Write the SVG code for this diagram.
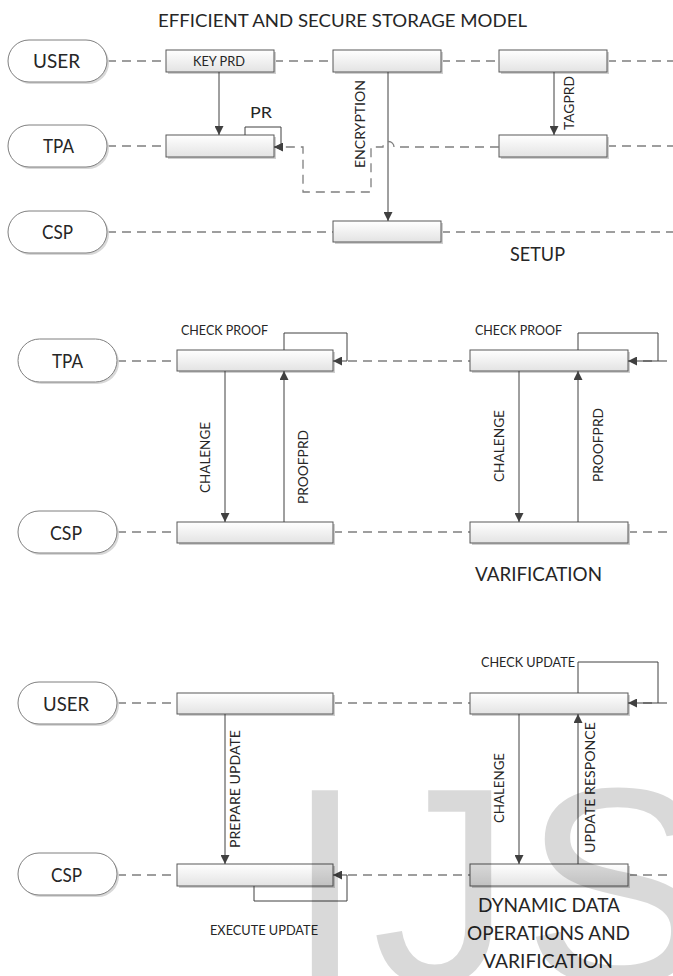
<svg xmlns="http://www.w3.org/2000/svg" width="673" height="976" viewBox="0 0 673 976">
<style>
.pill{fill:#fff;stroke:#7f7f7f;stroke-width:1}
.psh{fill:#d8d8d8}
.box{fill:url(#bg);stroke:#595959;stroke-width:1}
.bsh{fill:#cfcfcf}
.life{fill:none;stroke:#7f7f7f;stroke-width:1.3;stroke-dasharray:9 6}
.arr{fill:none;stroke:#404040;stroke-width:1;marker-end:url(#ah)}
.loop{fill:none;stroke:#404040;stroke-width:1}
.t{font-family:Lato,"Open Sans","Liberation Sans",sans-serif;fill:#262626}
.big{font-size:18.5px}
.sm{font-size:12.5px}
.wm{font-family:"Liberation Sans",Arial,sans-serif;font-size:280px;fill:#000;fill-opacity:0.15}
</style>
<defs>
<linearGradient id="bg" x1="0" y1="0" x2="0" y2="1">
<stop offset="0" stop-color="#ffffff"/>
<stop offset="1" stop-color="#e3e3e3"/>
</linearGradient>
<marker id="ah" viewBox="0 0 10 10" refX="10" refY="5" markerWidth="9" markerHeight="9" markerUnits="userSpaceOnUse" orient="auto">
<path d="M0,0 L10,5 L0,10 Z" fill="#404040"/>
</marker>
</defs>
<rect width="673" height="976" fill="#fff"/>

<text class="t" x="342.5" y="27" font-size="18" text-anchor="middle" textLength="369" lengthAdjust="spacingAndGlyphs">EFFICIENT AND SECURE STORAGE MODEL</text>

<g id="lifelines" class="connectors">
<path class="life" d="M107,61 H166 M274,61 H333 M441,61 H499 M607,61 H673"/>
<path class="life" d="M107,146 H166 M607,146 H673"/>
<path class="life" d="M107,232 H333 M441,232 H673"/>
<path class="life" d="M117,361 H177 M333,361 H470 M628,361 H673"/>
<path class="life" d="M117,532 H177 M333,532 H470 M628,532 H673"/>
<path class="life" d="M117,703 H177 M333,703 H470 M628,703 H673"/>
<path class="life" d="M117,875 H177 M333,875 H470 M628,875 H673"/>
</g>

<g id="pill-user1"><rect class="psh" x="10" y="42" width="99" height="42" rx="21"/><rect class="pill" x="8" y="40" width="99" height="42" rx="21"/><text class="t big" x="56.5" y="68" text-anchor="middle" textLength="47" lengthAdjust="spacingAndGlyphs">USER</text></g>
<g id="pill-tpa1"><rect class="psh" x="10" y="127" width="99" height="42" rx="21"/><rect class="pill" x="8" y="125" width="99" height="42" rx="21"/><text class="t big" x="58.5" y="153" text-anchor="middle" textLength="31" lengthAdjust="spacingAndGlyphs">TPA</text></g>
<g id="pill-csp1"><rect class="psh" x="10" y="213" width="99" height="42" rx="21"/><rect class="pill" x="8" y="211" width="99" height="42" rx="21"/><text class="t big" x="57.5" y="239" text-anchor="middle" textLength="31" lengthAdjust="spacingAndGlyphs">CSP</text></g>

<g id="pill-tpa2"><rect class="psh" x="20" y="341" width="99" height="43" rx="21.5"/><rect class="pill" x="18" y="339" width="99" height="43" rx="21.5"/><text class="t big" x="67.5" y="368" text-anchor="middle" textLength="31" lengthAdjust="spacingAndGlyphs">TPA</text></g>
<g id="pill-csp2"><rect class="psh" x="20" y="513" width="99" height="42" rx="21"/><rect class="pill" x="18" y="511" width="99" height="42" rx="21"/><text class="t big" x="66" y="540" text-anchor="middle" textLength="32" lengthAdjust="spacingAndGlyphs">CSP</text></g>

<g id="pill-user3"><rect class="psh" x="20" y="684" width="99" height="42" rx="21"/><rect class="pill" x="18" y="682" width="99" height="42" rx="21"/><text class="t big" x="66" y="711" text-anchor="middle" textLength="46" lengthAdjust="spacingAndGlyphs">USER</text></g>
<g id="pill-csp3"><rect class="psh" x="20" y="855" width="99" height="42" rx="21"/><rect class="pill" x="18" y="853" width="99" height="42" rx="21"/><text class="t big" x="66.5" y="882" text-anchor="middle" textLength="31" lengthAdjust="spacingAndGlyphs">CSP</text></g>

<g id="box-keyprd"><rect class="bsh" x="168" y="52" width="108" height="22"/><rect class="box" x="166" y="50" width="108" height="22"/><text class="t sm" x="219" y="66" text-anchor="middle" textLength="52" lengthAdjust="spacingAndGlyphs">KEY PRD</text></g>
<g id="box-user1b"><rect class="bsh" x="335" y="52" width="108" height="22"/><rect class="box" x="333" y="50" width="108" height="22"/></g>
<g id="box-user1c"><rect class="bsh" x="501" y="52" width="108" height="22"/><rect class="box" x="499" y="50" width="108" height="22"/></g>
<g id="box-tpa1a"><rect class="bsh" x="168" y="137" width="108" height="22"/><rect class="box" x="166" y="135" width="108" height="22"/></g>
<g id="box-tpa1b"><rect class="bsh" x="501" y="137" width="108" height="22"/><rect class="box" x="499" y="135" width="108" height="22"/></g>
<g id="box-csp1"><rect class="bsh" x="335" y="223" width="108" height="21"/><rect class="box" x="333" y="221" width="108" height="21"/></g>

<g id="box-tpa2a"><rect class="bsh" x="179" y="352" width="156" height="21"/><rect class="box" x="177" y="350" width="156" height="21"/></g>
<g id="box-tpa2b"><rect class="bsh" x="472" y="352" width="158" height="21"/><rect class="box" x="470" y="350" width="158" height="21"/></g>
<g id="box-csp2a"><rect class="bsh" x="179" y="524" width="156" height="21"/><rect class="box" x="177" y="522" width="156" height="21"/></g>
<g id="box-csp2b"><rect class="bsh" x="472" y="524" width="158" height="21"/><rect class="box" x="470" y="522" width="158" height="21"/></g>

<g id="box-user3a"><rect class="bsh" x="179" y="695" width="156" height="21"/><rect class="box" x="177" y="693" width="156" height="21"/></g>
<g id="box-user3b"><rect class="bsh" x="472" y="695" width="158" height="21"/><rect class="box" x="470" y="693" width="158" height="21"/></g>
<g id="box-csp3a"><rect class="bsh" x="179" y="866" width="156" height="22"/><rect class="box" x="177" y="864" width="156" height="22"/></g>
<g id="box-csp3b"><rect class="bsh" x="472" y="866" width="158" height="22"/><rect class="box" x="470" y="864" width="158" height="22"/></g>

<g id="connectors">
<path class="arr" d="M219,72 V135"/>
<path class="arr" d="M388,72 V221"/>
<path class="arr" d="M554,72 V135"/>
<path class="loop" d="M245,135 V127 H281 V147" />
<path class="arr" d="M281,147 H274"/>
<path fill="none" stroke="#7f7f7f" stroke-width="1.3" stroke-dasharray="9 6" d="M499,147 H394 A5,5 0 0 0 383,147 H371 V192 H303 V147 H278"/>
<path d="M274,147 L283,143 L283,151 Z" fill="#404040"/>

<path class="arr" d="M225,371 V522"/>
<path class="arr" d="M284,522 V371"/>
<path class="loop" d="M284,350 V333 H347 V361"/>
<path class="arr" d="M347,361 H333"/>
<path class="arr" d="M519,371 V522"/>
<path class="arr" d="M578,522 V371"/>
<path class="loop" d="M578,350 V333 H658 V361"/>
<path class="arr" d="M658,361 H628"/>

<path class="arr" d="M225,714 V864"/>
<path class="arr" d="M519,714 V864"/>
<path class="arr" d="M578,864 V714"/>
<path class="loop" d="M578,693 V662 H658 V703"/>
<path class="arr" d="M658,703 H628"/>
<path class="loop" d="M254,886 V901 H347 V875"/>
<path class="arr" d="M347,875 H333"/>
</g>

<g id="labels">
<text class="t" x="261" y="118" font-size="16" text-anchor="middle" textLength="22" lengthAdjust="spacingAndGlyphs">PR</text>
<text class="t sm" transform="translate(365,124) rotate(-90)" text-anchor="middle" textLength="88" lengthAdjust="spacingAndGlyphs">ENCRYPTION</text>
<text class="t sm" transform="translate(574,103) rotate(-90)" text-anchor="middle" textLength="54" lengthAdjust="spacingAndGlyphs">TAGPRD</text>
<text class="t big" x="537.5" y="261" text-anchor="middle" textLength="55" lengthAdjust="spacingAndGlyphs">SETUP</text>

<text class="t sm" x="224.5" y="335" text-anchor="middle" textLength="87" lengthAdjust="spacingAndGlyphs">CHECK PROOF</text>
<text class="t sm" x="518.5" y="335" text-anchor="middle" textLength="87" lengthAdjust="spacingAndGlyphs">CHECK PROOF</text>
<text class="t sm" transform="translate(210,457.5) rotate(-90)" text-anchor="middle" textLength="71" lengthAdjust="spacingAndGlyphs">CHALENGE</text>
<text class="t sm" transform="translate(308,467) rotate(-90)" text-anchor="middle" textLength="74" lengthAdjust="spacingAndGlyphs">PROOFPRD</text>
<text class="t sm" transform="translate(504,446) rotate(-90)" text-anchor="middle" textLength="72" lengthAdjust="spacingAndGlyphs">CHALENGE</text>
<text class="t sm" transform="translate(603,445) rotate(-90)" text-anchor="middle" textLength="74" lengthAdjust="spacingAndGlyphs">PROOFPRD</text>
<text class="t big" x="538.5" y="581" text-anchor="middle" textLength="127" lengthAdjust="spacingAndGlyphs">VARIFICATION</text>

<text class="t sm" transform="translate(240,789) rotate(-90)" text-anchor="middle" textLength="118" lengthAdjust="spacingAndGlyphs">PREPARE UPDATE</text>
<text class="t sm" x="264" y="935" text-anchor="middle" textLength="108" lengthAdjust="spacingAndGlyphs">EXECUTE UPDATE</text>
<text class="t sm" x="528" y="667" text-anchor="middle" textLength="94" lengthAdjust="spacingAndGlyphs">CHECK UPDATE</text>
<text class="t sm" transform="translate(504,788) rotate(-90)" text-anchor="middle" textLength="70" lengthAdjust="spacingAndGlyphs">CHALENGE</text>
<text class="t sm" transform="translate(595,787.5) rotate(-90)" text-anchor="middle" textLength="131" lengthAdjust="spacingAndGlyphs">UPDATE RESPONCE</text>
<text class="t big" x="549" y="912" text-anchor="middle" textLength="142" lengthAdjust="spacingAndGlyphs">DYNAMIC DATA</text>
<text class="t big" x="548.5" y="940" text-anchor="middle" textLength="163" lengthAdjust="spacingAndGlyphs">OPERATIONS AND</text>
<text class="t big" x="548" y="968" text-anchor="middle" textLength="130" lengthAdjust="spacingAndGlyphs">VARIFICATION</text>
</g>

<g id="watermark">
<text class="wm" x="286" y="983">I</text>
<text class="wm" x="372" y="983">J</text>
<text class="wm" x="523" y="983">S</text>
</g>
</svg>
